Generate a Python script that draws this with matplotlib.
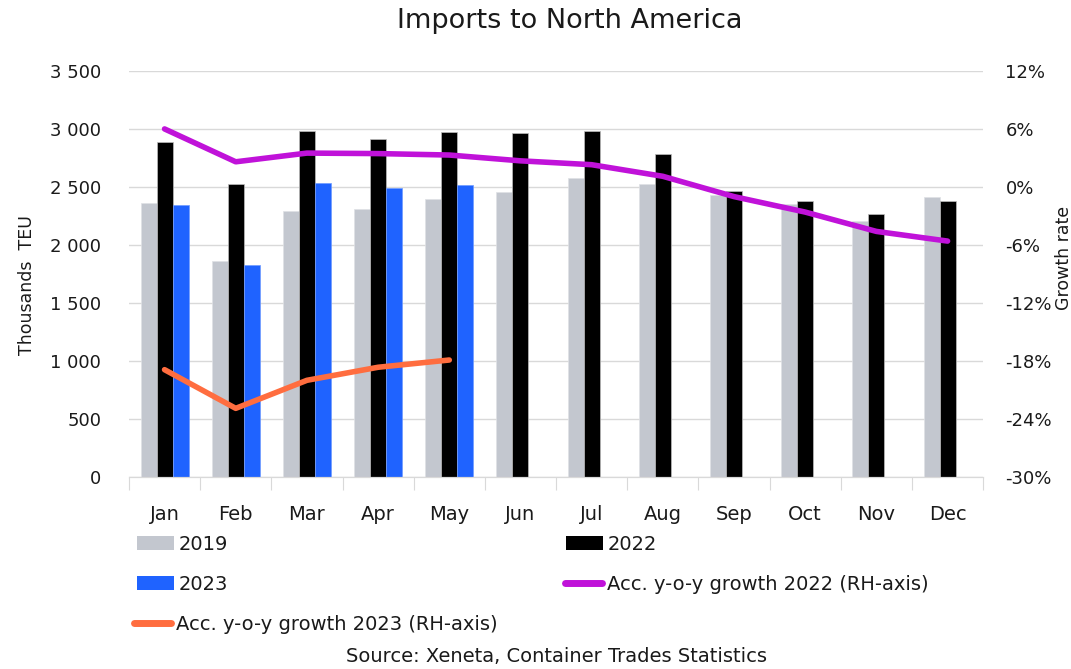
import numpy as np
import matplotlib
matplotlib.use("Agg")
import matplotlib.pyplot as plt
from matplotlib.patches import Patch
from matplotlib.lines import Line2D
from matplotlib.ticker import FuncFormatter

plt.rcParams['font.family'] = ['DejaVu Sans']

months = ['Jan', 'Feb', 'Mar', 'Apr', 'May', 'Jun', 'Jul', 'Aug', 'Sep', 'Oct', 'Nov', 'Dec']

# thousands TEU
teu_2019 = [2362, 1862, 2293, 2310, 2396, 2457, 2578, 2526, 2431, 2353, 2207, 2414]
teu_2022 = [2888, 2526, 2983, 2914, 2974, 2966, 2983, 2784, 2466, 2380, 2267, 2380]
teu_2023 = [2345, 1828, 2534, 2491, 2517]

# accumulated y-o-y growth, %
growth_2022 = [6.0, 2.6, 3.5, 3.45, 3.3, 2.7, 2.3, 1.1, -1.0, -2.6, -4.6, -5.6]
growth_2023 = [-18.9, -22.9, -20.0, -18.65, -17.9]

c2019 = '#c3c7cf'
c2022 = '#000000'
c2023 = '#1f63ff'
cg22 = '#c012d9'
cg23 = '#ff6d3f'
txt = '#1a1a1a'

fig = plt.figure(figsize=(10.71, 6.69), dpi=100)
ax = fig.add_axes([0.1204, 0.287, 0.7976, 0.607])
ax2 = ax.twinx()

x = np.arange(len(months))
w = 0.225
ax.bar(x - w, teu_2019, w, color=c2019, edgecolor='#dfe1e5', linewidth=0.5, zorder=2)
ax.bar(x, teu_2022, w, color=c2022, edgecolor='#bdbdbd', linewidth=0.5, zorder=2)
ax.bar(x[:len(teu_2023)] + w, teu_2023, w, color=c2023, edgecolor='#6f9bff', linewidth=0.5, zorder=2)

ax2.plot(x, growth_2022, color=cg22, lw=4, solid_joinstyle='round', solid_capstyle='round')
ax2.plot(x[:len(growth_2023)], growth_2023, color=cg23, lw=4, solid_joinstyle='round', solid_capstyle='round')

def teu_fmt(v, p):
    return f'{int(v):,}'.replace(',', ' ')

ax.set_xlim(-0.5, 11.5)
ax.set_ylim(0, 3500)
ax.set_yticks(np.arange(0, 3501, 500))
ax.yaxis.set_major_formatter(FuncFormatter(teu_fmt))
ax.grid(axis='y', color='#d9d9d9', lw=1, zorder=0)
ax.set_axisbelow(True)

ax2.set_ylim(-30, 12)
ax2.set_yticks(np.arange(-30, 13, 6))
ax2.yaxis.set_major_formatter(FuncFormatter(lambda v, p: f'{int(round(v))}%'))

for a in (ax, ax2):
    for s in ('top', 'left', 'right'):
        a.spines[s].set_visible(False)
    a.spines['bottom'].set_color('#d9d9d9')
    a.tick_params(axis='y', length=0, labelsize=13, colors=txt)
ax.tick_params(axis='y', pad=20)
ax2.tick_params(axis='y', pad=16)

# category boundaries as ticks, month names centred between them
ax.set_xticks(np.arange(13) - 0.5)
ax.set_xticklabels([])
ax.tick_params(axis='x', which='major', length=9, color='#d9d9d9')
ax.set_xticks(x, minor=True)
ax.set_xticklabels(months, minor=True)
ax.tick_params(axis='x', which='minor', length=0, labelsize=14, pad=20, colors=txt)

fig.text(0.532, 0.968, 'Imports to North America', ha='center', va='center', fontsize=19.5, color=txt)
fig.text(0.025, 0.574, 'Thousands  TEU', rotation=90, ha='center', va='center', fontsize=12.5, color=txt)
fig.text(0.9935, 0.614, 'Growth rate', rotation=90, ha='center', va='center', fontsize=12.5, color=txt)
fig.text(0.52, 0.018, 'Source: Xeneta, Container Trades Statistics', ha='center', va='center', fontsize=14, color=txt)

entries = [
    (Patch(facecolor=c2019), '2019', 137, 544),
    (Patch(facecolor=c2022), '2022', 566, 544),
    (Patch(facecolor=c2023), '2023', 137, 584),
    (Line2D([], [], color=cg22, lw=5, solid_capstyle='round'), 'Acc. y-o-y growth 2022 (RH-axis)', 565, 584),
    (Line2D([], [], color=cg23, lw=5, solid_capstyle='round'), 'Acc. y-o-y growth 2023 (RH-axis)', 134, 624),
]
for h, lab, px, py in entries:
    fig.legend(handles=[h], labels=[lab], loc='center left',
               bbox_to_anchor=(px / 1071, 1 - py / 669), frameon=False,
               fontsize=14, handlelength=1.9, handleheight=0.75,
               handletextpad=0.25, borderpad=0, borderaxespad=0,
               labelcolor=txt)

fig.savefig('out.png', dpi=100)
